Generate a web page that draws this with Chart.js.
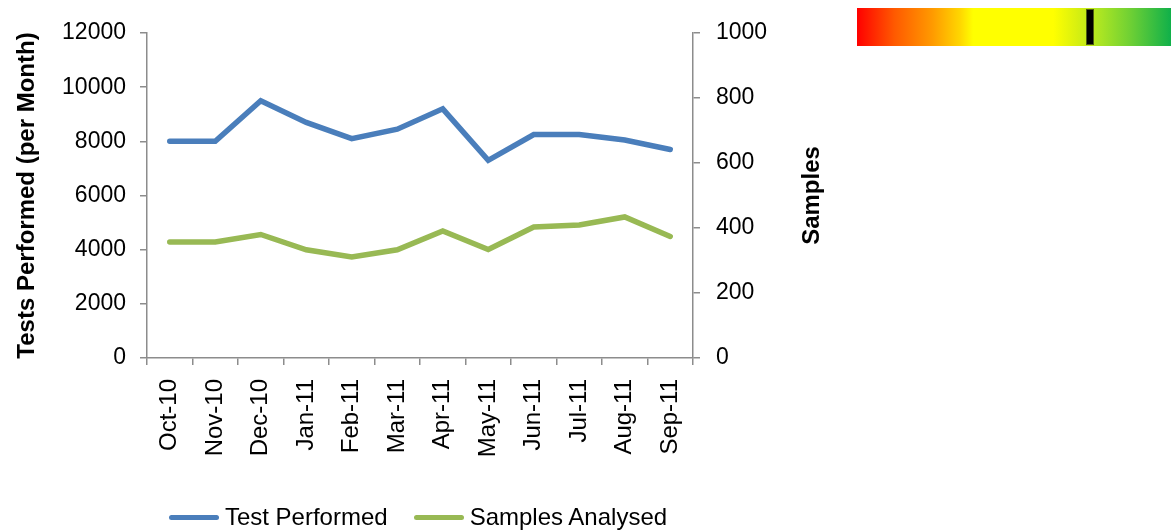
<!DOCTYPE html>
<html>
<head>
<meta charset="utf-8">
<script src="https://cdn.jsdelivr.net/npm/chart.js@4.4.1/dist/chart.umd.min.js"></script>
<style>
    body { margin: 0; background: #fff; }
    #wrap { position: relative; width: 1171px; height: 530px; }
    #chartBox { position: absolute; left: 0; top: 0; width: 836px; height: 530px; }
    #scaleBar {
        position: absolute; left: 857px; top: 8px; width: 314px; height: 38px;
        background: linear-gradient(to right, #ff0000 0%, #ff5a00 12%, #ff9a00 24%, #ffd800 33%, #ffff00 37%,
            #ffff00 62.5%, #d8f010 70%, #a8e424 78%, #6fd034 87%, #10b04a 100%);
    }
    #marker {
        position: absolute; left: 1086px; top: 9px; width: 6px; height: 34px;
        background: #000; border: 1px solid #4f5f10;
    }
    #legend {
        position: absolute; left: 0; width: 836px; top: 504px; height: 26px;
        display: flex; justify-content: center; align-items: center;
        font: 24px 'Liberation Sans', Arial, sans-serif; color: #000;
    }
    .legend-item { display: flex; align-items: center; margin: 0 13px; white-space: nowrap; }
    .legend-swatch { width: 50px; height: 5px; border-radius: 3px; margin-right: 6px; }
</style>
</head>
<body>
<div id="wrap">
    <div id="chartBox"><canvas id="lineChart" width="836" height="530"></canvas></div>
    <div id="legend"></div>
    <div id="scaleBar"></div>
    <div id="marker"></div>
</div>
<script>
const months = ['Oct-10', 'Nov-10', 'Dec-10', 'Jan-11', 'Feb-11', 'Mar-11',
    'Apr-11', 'May-11', 'Jun-11', 'Jul-11', 'Aug-11', 'Sep-11'];
const testsPerformed = [8000, 8000, 9500, 8700, 8100, 8450, 9200, 7300, 8250, 8250, 8050, 7700];
const samplesAnalysed = [357, 357, 380, 333, 311, 333, 391, 334, 403, 409, 434, 374];
const leftTicks = { min: 0, max: 12000, step: 2000 };
const rightTicks = { min: 0, max: 1000, step: 200 };

const FONT = "'Liberation Sans', Arial, sans-serif";
const AXIS_GREY = '#8c8c8c';

// right axis title reads bottom-to-top, chart.js draws it the other way
const rightTitle = {
    id: 'rightTitle',
    afterDraw(chart) {
        const { ctx, chartArea } = chart;
        ctx.save();
        ctx.translate(812, (chartArea.top + chartArea.bottom) / 2);
        ctx.rotate(-Math.PI / 2);
        ctx.font = `bold 24px ${FONT}`;
        ctx.fillStyle = '#000';
        ctx.textAlign = 'center';
        ctx.textBaseline = 'middle';
        ctx.fillText('Samples', 0, 0);
        ctx.restore();
    }
};

function initChart() {
    const ctx = document.getElementById('lineChart').getContext('2d');
    return new Chart(ctx, {
        type: 'line',
        data: {
            labels: months,
            datasets: [{
                label: 'Test Performed',
                data: testsPerformed,
                yAxisID: 'yLeft',
                borderColor: '#4a7ebb',
                backgroundColor: '#4a7ebb',
                borderWidth: 5.5,
                pointRadius: 0,
                tension: 0,
                borderCapStyle: 'round'
            }, {
                label: 'Samples Analysed',
                data: samplesAnalysed,
                yAxisID: 'yRight',
                borderColor: '#98b954',
                backgroundColor: '#98b954',
                borderWidth: 5.5,
                pointRadius: 0,
                tension: 0,
                borderCapStyle: 'round'
            }]
        },
        options: {
            responsive: false,
            animation: false,
            layout: { padding: { top: 33, left: 0, right: 0, bottom: 0 } },
            scales: {
                x: {
                    offset: true,
                    grid: { offset: true, drawOnChartArea: false, tickLength: 7, color: AXIS_GREY, lineWidth: 1.5 },
                    border: { color: AXIS_GREY, width: 1.5 },
                    ticks: {
                        minRotation: 90, maxRotation: 90, autoSkip: false,
                        padding: 14, color: '#000', font: { family: FONT, size: 24 }
                    },
                    afterFit: s => { s.height = 172; }
                },
                yLeft: {
                    position: 'left',
                    min: leftTicks.min, max: leftTicks.max,
                    grid: { drawOnChartArea: false, tickLength: 7, color: AXIS_GREY, lineWidth: 1.5 },
                    border: { color: AXIS_GREY, width: 1.5 },
                    ticks: {
                        stepSize: leftTicks.step, padding: 14, color: '#000',
                        font: { family: FONT, size: 23 }, callback: v => String(v)
                    },
                    title: {
                        display: true, text: 'Tests Performed (per Month)', color: '#000',
                        font: { family: FONT, size: 24, weight: 'bold' }, padding: { top: 13, bottom: 0 }
                    },
                    afterFit: s => { s.width = 147; }
                },
                yRight: {
                    position: 'right',
                    min: rightTicks.min, max: rightTicks.max,
                    grid: { drawOnChartArea: false, tickLength: 7, color: AXIS_GREY, lineWidth: 1.5 },
                    border: { color: AXIS_GREY, width: 1.5 },
                    ticks: {
                        stepSize: rightTicks.step, padding: 16, color: '#000',
                        font: { family: FONT, size: 23 }, callback: v => String(v)
                    },
                    afterFit: s => { s.width = 143; }
                }
            },
            plugins: {
                legend: { display: false },
                tooltip: { enabled: false }
            }
        },
        plugins: [rightTitle]
    });
}

// Legend below the chart, built from the datasets
function buildLegend(chart) {
    const legendEl = document.getElementById('legend');
    chart.data.datasets.forEach(ds => {
        const item = document.createElement('div');
        item.className = 'legend-item';
        item.innerHTML = `<span class="legend-swatch" style="background:${ds.borderColor}"></span><span>${ds.label}</span>`;
        legendEl.appendChild(item);
    });
}

document.addEventListener('DOMContentLoaded', () => {
    const chart = initChart();
    buildLegend(chart);
});
</script>
</body>
</html>
